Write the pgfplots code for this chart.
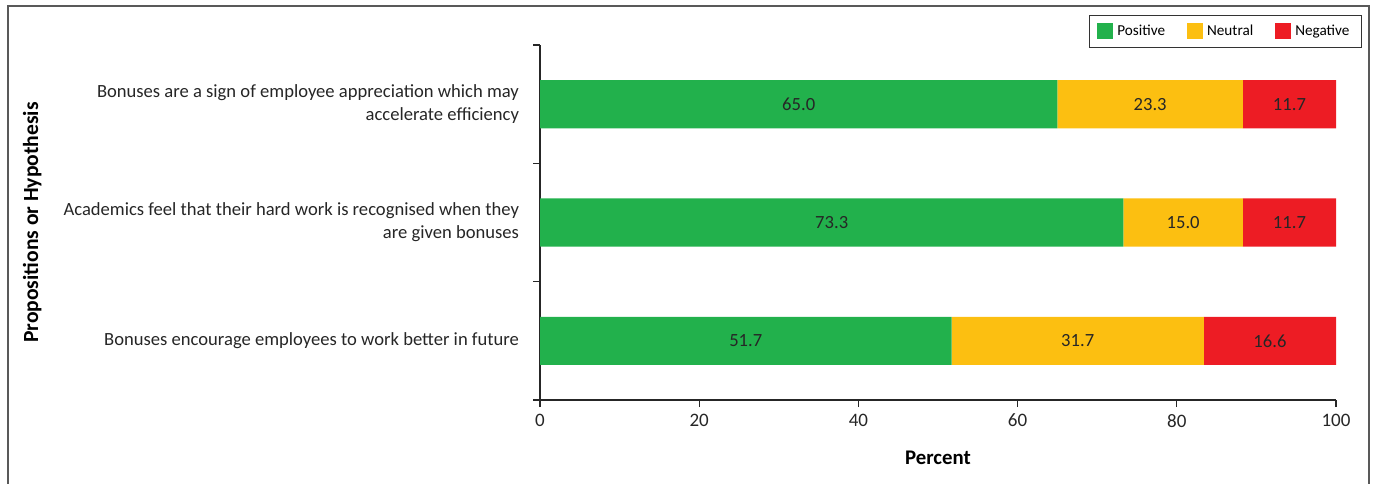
\documentclass[border=0pt]{standalone}
\usepackage{pgfplots}
\pgfplotsset{compat=1.18}
\usepackage{pgfplotstable}
\usepackage{fontspec}
\setmainfont{Carlito}
\definecolor{cpos}{RGB}{34,177,76}
\definecolor{cneu}{RGB}{252,191,17}
\definecolor{cneg}{RGB}{237,28,36}

\pgfplotstableread{
y pos neu neg
2.5 65.0 23.3 11.7
1.5 73.3 15.0 11.7
0.5 51.7 31.7 16.6
}\data

\begin{document}
\begin{tikzpicture}[x=1pt,y=1pt]
\useasboundingbox (0,0) rectangle (687.5,241.5);
\draw[black!65, line width=0.8pt] (4,-5) -- (4,238.5) -- (684.5,238.5) -- (684.5,-5);
\begin{axis}[
  at={(270pt,41.5pt)}, anchor=south west,
  scale only axis, width=398pt, height=177.5pt,
  xbar stacked, bar width=0.407,
  xmin=0, xmax=100, ymin=0, ymax=3,
  axis lines*=left,
  axis line style={black!85, line width=0.6pt},
  every tick/.style={black!85, line width=0.6pt},
  tick align=outside,
  major tick length=3.5pt,
  xtick={0,20,...,100},
  ytick={0,1,2,3}, yticklabels={},
  extra y ticks={0.5,1.5,2.5},
  extra y tick labels={{Bonuses encourage employees to work better in future},{Academics feel that their hard work is recognised when they\\are given bonuses},{Bonuses are a sign of employee appreciation which may\\accelerate efficiency}},
  extra y tick style={major tick length=0pt, yticklabel style={align=right, xshift=-7pt, font=\fontsize{9.3}{11.5}\selectfont}},
  /pgf/number format/assume math mode=true,
  ticklabel style={font=\fontsize{9.5}{11.5}\selectfont, text=black!85},
  xlabel={Percent},
  ylabel={Propositions or Hypothesis},
  xlabel style={font=\fontsize{10.4}{12}\selectfont\bfseries, at={(axis description cs:0.5,-0.163)}, anchor=center},
  ylabel style={font=\fontsize{10.8}{12}\selectfont\bfseries, at={(axis description cs:-0.638,0.5)}, anchor=center},
  nodes near coords,
  point meta=explicit,
  nodes near coords={\pgfmathprintnumber[fixed,fixed zerofill,precision=1]{\pgfplotspointmeta}},
  every node near coord/.append style={anchor=center, font=\fontsize{9.3}{11.5}\selectfont, text=black!85},
  legend style={at={(axis description cs:1.0327,1.0845)}, anchor=north east, legend columns=3, draw=black!80, line width=0.6pt,
    font=\fontsize{7.6}{9}\selectfont, inner xsep=4pt, inner ysep=2.5pt,
    /tikz/every even column/.append style={column sep=9pt}},
  legend image code/.code={\fill[#1] (0pt,-4pt) rectangle (8pt,4pt);},
]
\addplot+[draw=none, fill=cpos] table[x=pos, y=y, meta=pos] {\data};
\addplot+[draw=none, fill=cneu] table[x=neu, y=y, meta=neu] {\data};
\addplot+[draw=none, fill=cneg] table[x=neg, y=y, meta=neg] {\data};
\legend{Positive, Neutral, Negative}
\end{axis}
\end{tikzpicture}
\end{document}
